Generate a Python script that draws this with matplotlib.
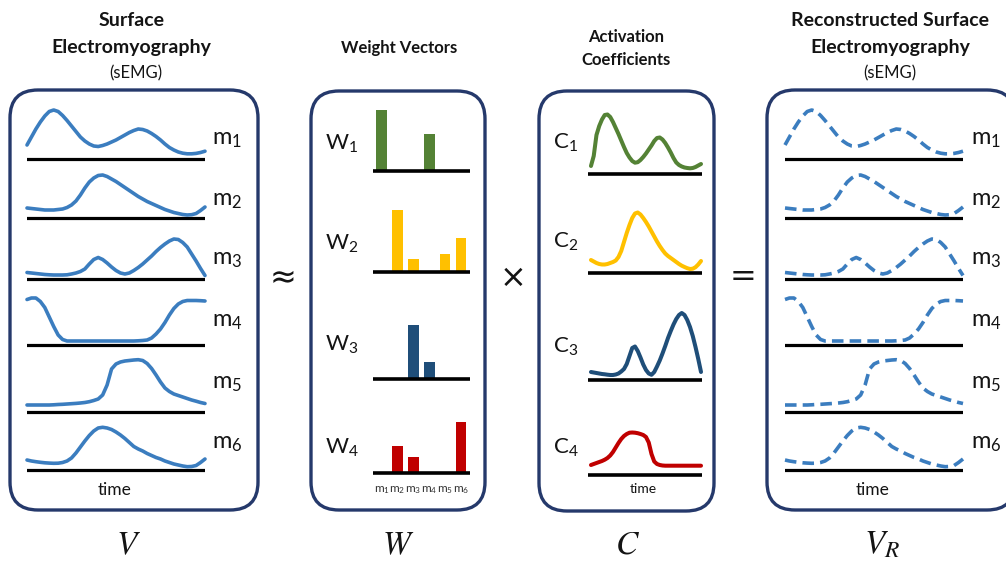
import numpy as np
import matplotlib
matplotlib.use("Agg")
import matplotlib.pyplot as plt
from matplotlib.patches import FancyBboxPatch

plt.rcParams['font.family'] = ['Lato', 'DejaVu Sans']

# ---------------------------------------------------------------- data
TIME = [0.000, 0.025, 0.050, 0.075, 0.100, 0.125, 0.150, 0.175, 0.200, 0.225,
        0.250, 0.275, 0.300, 0.325, 0.350, 0.375, 0.400, 0.425, 0.450, 0.475,
        0.500, 0.525, 0.550, 0.575, 0.600, 0.625, 0.650, 0.675, 0.700, 0.725,
        0.750, 0.775, 0.800, 0.825, 0.850, 0.875, 0.900, 0.925, 0.950, 0.975,
        1.000]

MUSCLES = ['m1', 'm2', 'm3', 'm4', 'm5', 'm6']

# sEMG envelopes per muscle (amplitude units)
m1 = [14, 22, 30, 37, 43, 47.5, 49, 47.5, 43.5, 38.5,
      33, 27.5, 22, 18, 15, 13, 12.5, 13.5, 15, 17,
      19, 21.5, 24, 26.5, 28.5, 30, 29.5, 28, 25.5, 22.5,
      19, 15, 11.5, 9, 7, 5.8, 5.2, 5.2, 5.6, 6.5,
      7.8]
m2 = [10, 9.5, 9, 8.5, 8, 8, 8, 8.5, 9, 10.5,
      13, 17, 23, 30, 36, 40, 42.5, 43, 41.5, 39,
      36.5, 33.5, 30.5, 27.5, 24.5, 21.5, 19, 16.5, 14.5, 12.5,
      10.5, 8.5, 7, 5.5, 4.5, 3.5, 3, 3.3, 4.5, 7.5,
      11]
m3 = [6.5, 6, 5.5, 5, 4.5, 4.2, 4, 4, 4, 4.2,
      5, 6, 7.5, 10, 15, 19.5, 21.5, 19.5, 16, 12,
      8.5, 6, 5, 6, 8.5, 11.5, 15, 19, 23, 27.5,
      31.5, 35, 38, 40, 39.5, 36.5, 32, 25, 18, 10.5,
      3.5]
m4 = [45.5, 47, 47, 43.5, 37.5, 28, 18.5, 10, 5.5, 4,
      4, 4, 4, 4, 4, 4, 4, 4, 4, 4,
      4, 4, 4, 4, 4, 4.2, 4.5, 5, 7, 11,
      16, 22.5, 30, 36.5, 41, 43.5, 44.5, 44.5, 44.5, 44.3,
      44]
m5 = [7, 7, 7, 7, 7, 7, 7.2, 7.5, 7.7, 8,
      8.3, 8.6, 9, 9.5, 10.3, 11.5, 13, 17, 27, 43,
      48, 50, 51, 51.5, 52, 52.3, 51.5, 48.5, 43.5, 37,
      30, 24, 20.5, 18, 16.5, 15, 13.5, 12, 10.8, 9.5,
      8.5]
m6 = [10, 9, 8.3, 7.7, 7.2, 6.9, 6.7, 6.8, 7.5, 9,
      12, 17, 23, 29, 34.5, 39, 42, 42.7, 42, 40.5,
      38, 35, 31.5, 27.5, 23.5, 21, 19, 16.5, 14.5, 12.5,
      11, 9, 7.5, 6, 5, 4, 3.3, 3.5, 4.5, 7.5,
      11]

# synergy weight vectors over the six muscles
W1 = [61, 0, 0, 37, 0, 0]
W2 = [0, 62, 13, 0, 18, 34]
W3 = [0, 0, 54, 17, 0, 0]
W4 = [0, 27, 16, 0, 0, 51]

# activation coefficients
C1 = [8, 18, 39, 48, 54.5, 59, 59.5, 57, 52, 46,
      40, 33.5, 27, 21, 16.5, 13, 11.3, 11.8, 14, 17,
      20.5, 24.5, 28.5, 33, 36, 36.5, 34.5, 31, 26.5, 21.5,
      16, 11.5, 9, 7.5, 6.5, 6, 5.7, 6, 7, 8.5,
      10]
C2 = [13, 11.5, 10, 9, 8.5, 8.5, 9, 10, 11, 12.5,
      16, 22, 31, 40, 48, 55, 59.5, 60.5, 58.5, 55,
      51, 46.5, 41.5, 36.5, 31.5, 27, 23, 19.5, 17, 15,
      13, 11, 9, 7.3, 6, 4.8, 4, 4.3, 5.8, 8.5,
      12]
C3 = [8, 7.5, 7, 6.5, 6, 5.7, 5.3, 5, 5, 5.5,
      6.5, 8.5, 11, 16, 24, 32, 33.5, 29, 22.5, 15.5,
      10, 6.5, 5.2, 8, 13.5, 19.5, 26.5, 34, 42, 49,
      55.5, 61, 65, 67, 65, 60, 53, 44, 33, 21,
      8]
C4 = [10, 11, 12, 13, 14, 15.3, 17, 19.5, 23, 27.5,
      32, 36, 39, 41, 42.3, 42.5, 42.3, 41.8, 41, 40,
      38, 32.5, 21, 13.5, 11, 10, 9.5, 9.3, 9.3, 9.3,
      9.3, 9.3, 9.3, 9.3, 9.3, 9.3, 9.3, 9.3, 9.3, 9.3,
      9.3]

V = [m1, m2, m3, m4, m5, m6]
V_R = [m1, m2, m3, m4, m5, m6]   # reconstruction W x C
W = [W1, W2, W3, W4]
C = [C1, C2, C3, C4]

# ---------------------------------------------------------------- style
FW, FH = 1006, 563
NAVY = '#25396b'
EMG_BLUE = '#3b7dbf'
SYN_COLORS = ['#548235', '#ffc000', '#1f4e79', '#c00000']
TXT = '#141414'

fig = plt.figure(figsize=(FW / 100, FH / 100), dpi=100)
bg = fig.add_axes([0, 0, 1, 1])
bg.set_xlim(0, FW)
bg.set_ylim(FH, 0)
bg.axis('off')


def panel_box(x0, x1, y0, y1):
    bg.add_patch(FancyBboxPatch((x0, y0), x1 - x0, y1 - y0,
                                boxstyle='round,pad=0,rounding_size=28',
                                fc='white', ec=NAVY, lw=2.4, zorder=1))


def row_axes(x0, x1, base, top=72, below=6):
    ax = fig.add_axes([x0 / FW, (FH - base - below) / FH,
                       (x1 - x0) / FW, (top + below) / FH])
    ax.set_ylim(-below, top)
    ax.axis('off')
    ax.patch.set_alpha(0)
    return ax


def sub_label(x, y, letter, idx, size, ha='left'):
    bg.text(x, y, r'$\mathregular{%s_{%d}}$' % (letter, idx), fontsize=size,
            color=TXT, ha=ha, va='center', zorder=5)


# panel frames
panel_box(10, 258, 90, 510)
panel_box(311, 485, 91, 510)
panel_box(539, 714, 91, 511)
panel_box(767, 1015, 90, 510)

# ---------------------------------------------------------------- sEMG panels
emg_bases = [159, 218, 279, 345, 412, 470]
emg_label_y = [140, 201, 260, 322, 384, 444]

for panel_x0, panel_x1, lab_x, data, dashed in [
        (27, 205, 212, V, False),
        (785, 963, 971, V_R, True)]:
    for i, series in enumerate(data):
        ax = row_axes(panel_x0, panel_x1, emg_bases[i])
        ax.set_xlim(0, 1)
        ax.axhline(0, color='black', lw=2.3, zorder=2)
        if dashed:
            ax.plot(TIME, series, color=EMG_BLUE, lw=2.6,
                    linestyle=(0, (3.2, 1.7)), solid_joinstyle='round',
                    clip_on=False, zorder=3)
        else:
            ax.plot(TIME, series, color=EMG_BLUE, lw=2.6,
                    solid_joinstyle='round', solid_capstyle='round',
                    clip_on=False, zorder=3)
        sub_label(lab_x, emg_label_y[i], 'm', i + 1, 17)
    bg.text((panel_x0 + panel_x1) / 2 - 1, 490, 'time', fontsize=12.5,
            color=TXT, ha='center', va='center')

# ---------------------------------------------------------------- weight vectors
w_bases = [171, 272, 379, 473]
w_label_y = [144, 244, 345, 448]
idx = np.arange(len(MUSCLES))
for j, weights in enumerate(W):
    ax = row_axes(373, 470, w_bases[j], top=72, below=4)
    ax.axis('on')
    for s in ax.spines.values():
        s.set_visible(False)
    ax.set_yticks([])
    ax.set_xlim(-0.54, 5.57)
    ax.bar(idx, weights, width=0.68, color=SYN_COLORS[j], zorder=2)
    ax.axhline(0, color='black', lw=2.6, zorder=3)
    if j == len(W) - 1:
        ax.set_xticks(idx, [r'$\mathregular{m_{%d}}$' % (k + 1) for k in idx],
                      fontsize=8.5, color='#333333')
        ax.tick_params(axis='x', length=0, pad=5)
    else:
        ax.set_xticks([])
    sub_label(325, w_label_y[j], 'W', j + 1, 16)

# ---------------------------------------------------------------- activation coefficients
c_bases = [174, 273, 380, 475]
c_label_y = [143, 242, 347, 448]
for j, coeffs in enumerate(C):
    ax = row_axes(588, 702, c_bases[j], top=72)
    ax.set_xlim(-0.027, 1.009)
    ax.axhline(0, color='black', lw=2.6, zorder=2)
    ax.plot(TIME, coeffs, color=SYN_COLORS[j], lw=2.9,
            solid_joinstyle='round', solid_capstyle='round',
            clip_on=False, zorder=3)
    sub_label(553, c_label_y[j], 'C', j + 1, 16)
bg.text(643, 489, 'time', fontsize=10, color=TXT, ha='center', va='center')

# ---------------------------------------------------------------- titles
bg.text(132, 20, 'Surface', fontsize=14, fontweight='bold', color=TXT,
        ha='center', va='center')
bg.text(131, 47, 'Electromyography', fontsize=14, fontweight='bold', color=TXT,
        ha='center', va='center')
bg.text(136, 73, '(sEMG)', fontsize=12, color=TXT, ha='center', va='center')

bg.text(399, 48, 'Weight Vectors', fontsize=12, fontweight='bold', color=TXT,
        ha='center', va='center')

bg.text(626, 37, 'Activation', fontsize=12, fontweight='bold', color=TXT,
        ha='center', va='center')
bg.text(626, 60, 'Coefficients', fontsize=12, fontweight='bold', color=TXT,
        ha='center', va='center')

bg.text(890, 20, 'Reconstructed Surface', fontsize=14, fontweight='bold',
        color=TXT, ha='center', va='center')
bg.text(890, 47, 'Electromyography', fontsize=14, fontweight='bold', color=TXT,
        ha='center', va='center')
bg.text(890, 73, '(sEMG)', fontsize=12, color=TXT, ha='center', va='center')

# ---------------------------------------------------------------- operators
for x, y, op in [(283, 279, '\u2248'), (513, 278, '\u00d7'), (743, 278, '=')]:
    bg.text(x, y, op, fontsize=23, color=TXT, ha='center', va='center',
            family='DejaVu Sans')

# ---------------------------------------------------------------- matrix symbols
for x, sym in [(128, r'$\mathit{V}$'), (398, r'$\mathit{W}$'),
               (628, r'$\mathit{C}$'), (882, r'$\mathit{V}_{\mathit{R}}$')]:
    bg.text(x, 545, sym, fontsize=24, color=TXT, ha='center', va='center',
            math_fontfamily='stix')

fig.savefig('out.png', dpi=100)
